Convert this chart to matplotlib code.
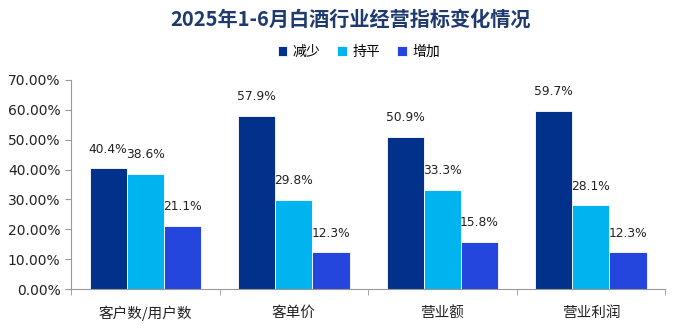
import numpy as np
import matplotlib
matplotlib.use('Agg')
from matplotlib import pyplot as plt
from matplotlib.ticker import FixedLocator, PercentFormatter

plt.rcParams['font.family'] = ['Noto Sans CJK SC', 'DejaVu Sans']

categories = ['客户数/用户数', '客单价', '营业额', '营业利润']
series_names = ['减少', '持平', '增加']
decrease = [40.4, 57.9, 50.9, 59.7]
flat = [38.6, 29.8, 33.3, 28.1]
increase = [21.1, 12.3, 15.8, 12.3]
colors = ['#02318C', '#00B4EF', '#2446DC']

fig = plt.figure(figsize=(6.85, 3.3), dpi=100)
ax = fig.add_axes([0.1036, 0.124, 0.8675, 0.634])

x = np.arange(len(categories))
w = 0.25
for j, (vals, name) in enumerate(zip([decrease, flat, increase], series_names)):
    bars = ax.bar(x + (j - 1) * w, vals, w, color=colors[j], label=name,
                  edgecolor='white', linewidth=0.6)
    for b, v in zip(bars, vals):
        ax.text(b.get_x() + b.get_width() / 2, v + 4.2, f'{v:.1f}%',
                ha='center', va='bottom', fontsize=8.8, family='DejaVu Sans',
                color='#222222')

ax.set_xlim(-0.5, len(categories) - 0.5)
ax.set_ylim(0, 70)
ax.set_yticks(np.arange(0, 71, 10))
ax.yaxis.set_major_formatter(PercentFormatter(decimals=2))
ax.set_xticks(x)
ax.set_xticklabels(categories, fontsize=10.5, color='#222222')
ax.xaxis.set_minor_locator(FixedLocator(np.arange(-0.5, len(categories), 1)))
ax.tick_params(axis='x', which='major', length=0, pad=12)
ax.tick_params(axis='x', which='minor', length=4, color='#999999')
ax.tick_params(axis='y', length=4, color='#999999', labelsize=10, labelcolor='#222222')
for lbl in ax.get_yticklabels():
    lbl.set_family('DejaVu Sans')

for s in ['top', 'right']:
    ax.spines[s].set_visible(False)
for s in ['left', 'bottom']:
    ax.spines[s].set_color('#999999')
    ax.spines[s].set_linewidth(0.8)

fig.suptitle('2025年1-6月白酒行业经营指标变化情况', x=0.512, y=0.975,
             fontsize=14.5, fontweight='bold', color='#1F3A6E')
fig.legend(loc='center', bbox_to_anchor=(0.524, 0.842), ncol=3, frameon=False,
           fontsize=10, handlelength=0.7, handleheight=0.7, handletextpad=0.4,
           columnspacing=1.2)

fig.savefig('out.png', dpi=100)
